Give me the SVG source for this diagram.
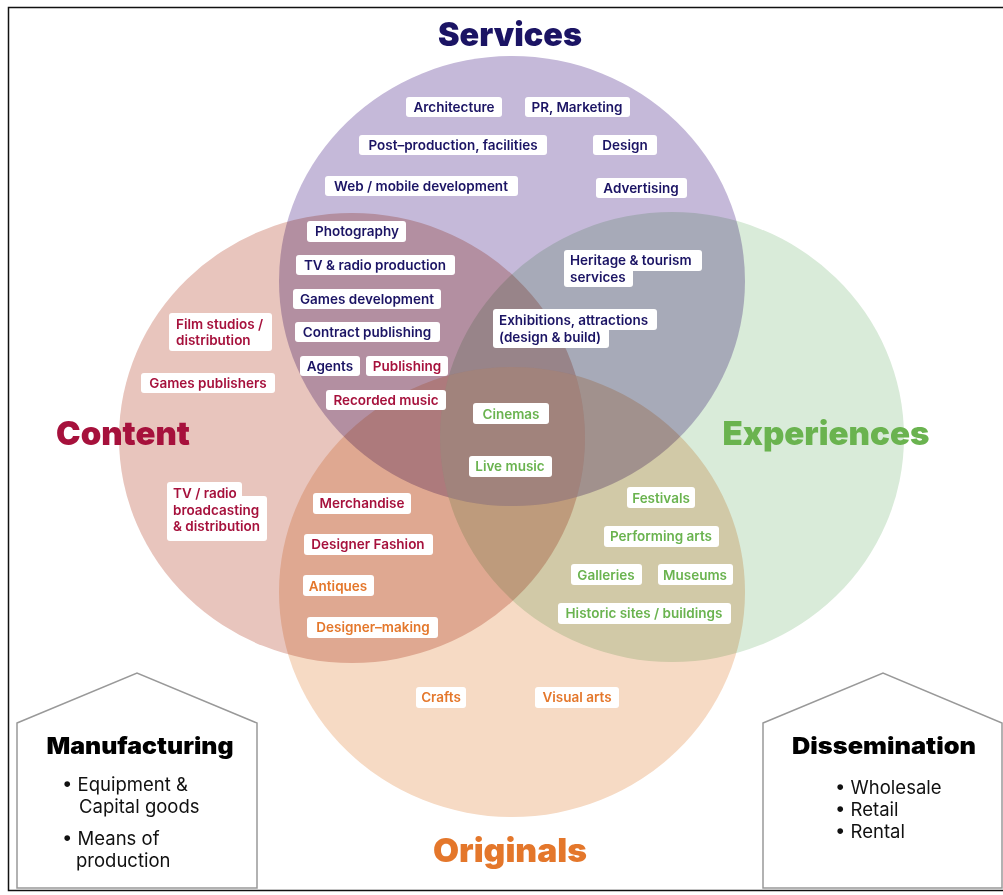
<svg xmlns="http://www.w3.org/2000/svg" width="1003" height="895" viewBox="0 0 1003 895">
<style>
.c{mix-blend-mode:multiply}
.lb{fill:#fff}
.t{font-family:Inter,Roboto,"Liberation Sans",sans-serif;font-size:13.5px;font-weight:600}
.m{text-anchor:middle}
.nv{fill:#1b1464}.cr{fill:#a6113c}.gr{fill:#6ab34f}.or{fill:#e4772b}
.big{font-family:Inter,"Open Sans","Liberation Sans",sans-serif;font-weight:900;font-size:33px;text-anchor:middle}
.hd{font-family:Inter,"Open Sans","Liberation Sans",sans-serif;font-weight:900;font-size:23px;text-anchor:middle;fill:#000}
.bl{font-family:Inter,Roboto,"Liberation Sans",sans-serif;font-size:18.5px;fill:#111}
.house{fill:#fff;stroke:#999;stroke-width:1.5}
</style>
<defs>
<clipPath id="cpP"><ellipse cx="512" cy="281" rx="233" ry="225"/></clipPath>
<clipPath id="cpC"><ellipse cx="352" cy="438" rx="233" ry="225"/></clipPath>
<clipPath id="cpE"><ellipse cx="672" cy="437" rx="232" ry="225"/></clipPath>
</defs>
<rect x="0" y="0" width="1003" height="895" fill="#fff"/>
<rect x="8.5" y="7.5" width="1010" height="883" fill="none" stroke="#111" stroke-width="1.5"/>
<g id="circles" style="isolation:isolate">
<ellipse id="services-circle" class="c" cx="512" cy="281" rx="233" ry="225" fill="#c5b9d9"/>
<ellipse id="content-circle" class="c" cx="352" cy="438" rx="233" ry="225" fill="#e8c5bd"/>
<ellipse id="experiences-circle" class="c" cx="672" cy="437" rx="232" ry="225" fill="#d9ebd9"/>
<ellipse id="originals-circle" class="c" cx="512" cy="592" rx="233" ry="225" fill="#f6dac4"/>
</g>
<g clip-path="url(#cpP)"><g clip-path="url(#cpC)"><g clip-path="url(#cpE)"><ellipse cx="512" cy="592" rx="233" ry="225" fill="#fff" opacity="0.13"/></g></g></g>
<g id="connectors"></g>
<g id="titles">
<text id="t-services" class="big nv" x="510" y="46" textLength="144" lengthAdjust="spacingAndGlyphs">Services</text>
<text id="t-content" class="big cr" x="123" y="445" textLength="134" lengthAdjust="spacingAndGlyphs">Content</text>
<text id="t-experiences" class="big gr" x="826" y="445" textLength="207" lengthAdjust="spacingAndGlyphs">Experiences</text>
<text id="t-originals" class="big or" x="510" y="862" textLength="154" lengthAdjust="spacingAndGlyphs">Originals</text>
</g>
<g id="labels">
<g id="n-architecture"><rect class="lb" x="406" y="97" width="96" height="20" rx="3"/><text class="t m nv" x="454" y="112">Architecture</text></g>
<g id="n-pr"><rect class="lb" x="525" y="97" width="105" height="20" rx="3"/><text class="t m nv" x="577" y="112">PR, Marketing</text></g>
<g id="n-post"><rect class="lb" x="359" y="135" width="188" height="20" rx="3"/><text class="t m nv" x="453" y="150">Post–production, facilities</text></g>
<g id="n-design"><rect class="lb" x="593" y="135" width="64" height="20" rx="3"/><text class="t m nv" x="625" y="150">Design</text></g>
<g id="n-web"><rect class="lb" x="325" y="176" width="193" height="20" rx="3"/><text class="t m nv" x="421" y="191">Web / mobile development</text></g>
<g id="n-advertising"><rect class="lb" x="596" y="178" width="91" height="20" rx="3"/><text class="t m nv" x="641" y="193">Advertising</text></g>
<g id="n-photography"><rect class="lb" x="307" y="221" width="99" height="21" rx="3"/><text class="t m nv" x="357" y="236">Photography</text></g>
<g id="n-tvradio"><rect class="lb" x="296" y="255" width="159" height="20" rx="3"/><text class="t m nv" x="375" y="270">TV &amp; radio production</text></g>
<g id="n-games-dev"><rect class="lb" x="293" y="289" width="148" height="20" rx="3"/><text class="t m nv" x="367" y="304">Games development</text></g>
<g id="n-contract"><rect class="lb" x="295" y="322" width="145" height="20" rx="3"/><text class="t m nv" x="367" y="337">Contract publishing</text></g>
<g id="n-agents"><rect class="lb" x="300" y="356" width="60" height="20" rx="3"/><text class="t m nv" x="330" y="371">Agents</text></g>
<g id="n-publishing"><rect class="lb" x="366" y="356" width="82" height="20" rx="3"/><text class="t m cr" x="407" y="371">Publishing</text></g>
<g id="n-recorded"><rect class="lb" x="326" y="390" width="120" height="20" rx="3"/><text class="t m cr" x="386" y="405">Recorded music</text></g>
<g id="n-film"><rect class="lb" x="169" y="313" width="103" height="38" rx="3"/><text class="t cr" x="176" y="329">Film studios /</text><text class="t cr" x="176" y="345">distribution</text></g>
<g id="n-games-pub"><rect class="lb" x="141" y="373" width="134" height="20" rx="3"/><text class="t m cr" x="208" y="388">Games publishers</text></g>
<g id="n-broadcast"><rect class="lb" x="167" y="482" width="75" height="20" rx="3"/><rect class="lb" x="167" y="496" width="100" height="45" rx="3"/><text class="t cr" x="173" y="498">TV / radio</text><text class="t cr" x="173" y="515">broadcasting</text><text class="t cr" x="173" y="531">&amp; distribution</text></g>
<g id="n-heritage"><rect class="lb" x="564" y="250" width="138" height="21" rx="3"/><rect class="lb" x="564" y="265" width="69" height="22" rx="3"/><text class="t nv" x="570" y="265">Heritage &amp; tourism</text><text class="t nv" x="570" y="282">services</text></g>
<g id="n-exhibitions"><rect class="lb" x="493" y="309" width="164" height="21" rx="3"/><rect class="lb" x="493" y="325" width="116" height="23" rx="3"/><text class="t nv" x="499" y="325">Exhibitions, attractions</text><text class="t nv" x="499" y="342">(design &amp; build)</text></g>
<g id="n-cinemas"><rect class="lb" x="473" y="403" width="76" height="21" rx="3"/><text class="t m gr" x="511" y="419">Cinemas</text></g>
<g id="n-live"><rect class="lb" x="469" y="456" width="83" height="21" rx="3"/><text class="t m gr" x="510" y="471">Live music</text></g>
<g id="n-merch"><rect class="lb" x="313" y="493" width="98" height="21" rx="3"/><text class="t m cr" x="362" y="508">Merchandise</text></g>
<g id="n-fashion"><rect class="lb" x="304" y="534" width="129" height="21" rx="3"/><text class="t m cr" x="368" y="549">Designer Fashion</text></g>
<g id="n-antiques"><rect class="lb" x="303" y="575" width="71" height="21" rx="3"/><text class="t m or" x="338" y="591">Antiques</text></g>
<g id="n-making"><rect class="lb" x="307" y="617" width="131" height="21" rx="3"/><text class="t m or" x="373" y="632">Designer–making</text></g>
<g id="n-festivals"><rect class="lb" x="627" y="487" width="68" height="21" rx="3"/><text class="t m gr" x="661" y="503">Festivals</text></g>
<g id="n-performing"><rect class="lb" x="604" y="526" width="115" height="21" rx="3"/><text class="t m gr" x="661" y="541">Performing arts</text></g>
<g id="n-galleries"><rect class="lb" x="571" y="564" width="71" height="21" rx="3"/><text class="t m gr" x="606" y="580">Galleries</text></g>
<g id="n-museums"><rect class="lb" x="658" y="564" width="75" height="21" rx="3"/><text class="t m gr" x="695" y="580">Museums</text></g>
<g id="n-historic"><rect class="lb" x="558" y="603" width="173" height="21" rx="3"/><text class="t m gr" x="644" y="618">Historic sites / buildings</text></g>
<g id="n-crafts"><rect class="lb" x="416" y="687" width="50" height="21" rx="3"/><text class="t m or" x="441" y="702">Crafts</text></g>
<g id="n-visual"><rect class="lb" x="535" y="687" width="84" height="21" rx="3"/><text class="t m or" x="577" y="702">Visual arts</text></g>
</g>
<g id="manufacturing">
<path class="house" d="M17 723 L137 673 L257 723 L257 888 L17 888 Z"/>
<text class="hd" x="140" y="754" textLength="187" lengthAdjust="spacingAndGlyphs">Manufacturing</text>
<text class="bl" x="62" y="791">• Equipment &amp;</text>
<text class="bl" x="79" y="813">Capital goods</text>
<text class="bl" x="62" y="845">• Means of</text>
<text class="bl" x="76" y="867">production</text>
</g>
<g id="dissemination">
<path class="house" d="M763 723 L883 673 L1002 723 L1002 888 L763 888 Z"/>
<text class="hd" x="884" y="754" textLength="184" lengthAdjust="spacingAndGlyphs">Dissemination</text>
<text class="bl" x="835" y="794">• Wholesale</text>
<text class="bl" x="835" y="816">• Retail</text>
<text class="bl" x="835" y="838">• Rental</text>
</g>
</svg>
